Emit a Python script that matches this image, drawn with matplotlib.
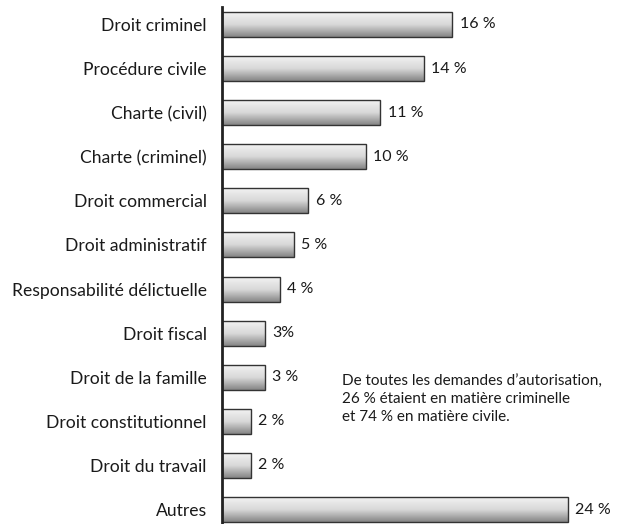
import numpy as np
import matplotlib.pyplot as plt
from matplotlib.colors import LinearSegmentedColormap

categories = ["Droit criminel", "Procédure civile", "Charte (civil)", "Charte (criminel)",
              "Droit commercial", "Droit administratif", "Responsabilité délictuelle",
              "Droit fiscal", "Droit de la famille", "Droit constitutionnel",
              "Droit du travail", "Autres"]
values = [16, 14, 11, 10, 6, 5, 4, 3, 3, 2, 2, 24]
value_labels = ["16 %", "14 %", "11 %", "10 %", "6 %", "5 %", "4 %", "3%", "3 %", "2 %", "2 %", "24 %"]
note = ("De toutes les demandes d\u2019autorisation,\n"
        "26 % étaient en matière criminelle\n"
        "et 74 % en matière civile.")

plt.rcParams['font.family'] = ['Lato', 'DejaVu Sans']

fig = plt.figure(figsize=(6.21, 5.24), dpi=100)
ax = fig.add_axes([222 / 621, 0, 1 - 222 / 621, 1 - 7 / 524])

pos = np.arange(len(categories))
h = 0.567
grad = np.linspace(0, 1, 64).reshape(-1, 1)
cmap = LinearSegmentedColormap.from_list("bar", ["#f2f2f2", "#d8d8d8", "#858585"])

# gradient fill for each bar, then outlines on top
for y, v, lab in zip(pos, values, value_labels):
    ax.imshow(grad, extent=[0, v, y + h / 2, y - h / 2], cmap=cmap, aspect='auto',
              interpolation='bilinear', zorder=1)
    ax.text(v + 0.5, y, lab, va='center', ha='left', fontsize=11.5, color='#1a1a1a')

ax.barh(pos, values, height=h, facecolor='none', edgecolor='#333333', linewidth=1, zorder=2)

ax.set_xlim(0, (621 - 222) / 14.4)
ax.set_ylim(11 + 14.5 / 44.1, -17.5 / 44.1)
ax.set_yticks(pos)
ax.set_yticklabels(categories, fontsize=12.6, color='#1a1a1a')
ax.tick_params(axis='y', length=0, pad=11)
ax.set_xticks([])
for s in ['top', 'right', 'bottom']:
    ax.spines[s].set_visible(False)
ax.spines['left'].set_linewidth(2)
ax.spines['left'].set_color('#222222')

ax.text(8.33, 8.5, note, va='center', ha='left', fontsize=11, color='#1a1a1a', linespacing=1.35)

fig.savefig("out.png", dpi=100)
